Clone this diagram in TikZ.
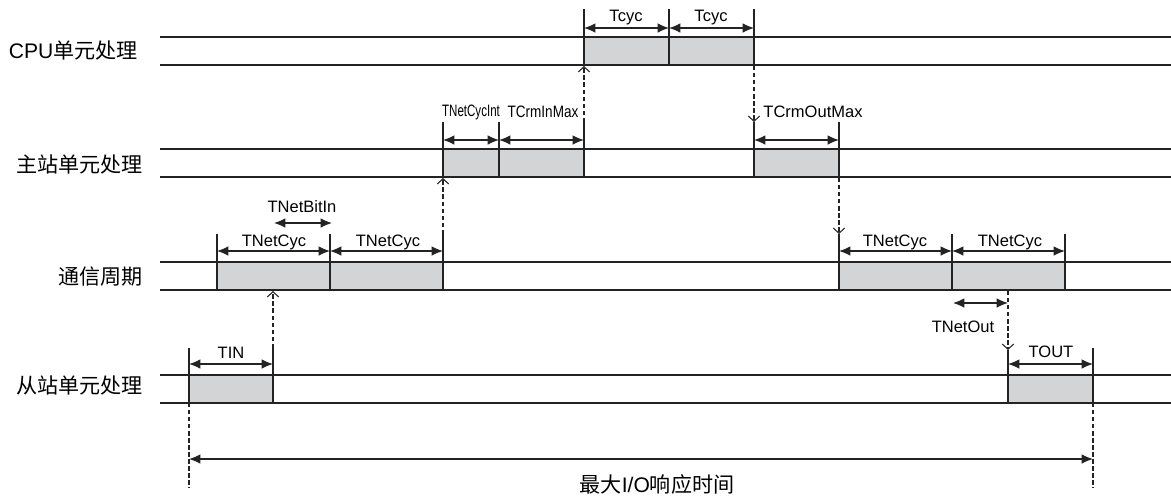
\documentclass[tikz,border=0pt]{standalone}
\usepackage{fontspec}
\setmainfont{Liberation Sans}
\newfontfamily\cjk{Noto Sans CJK SC}
\usetikzlibrary{arrows.meta, calc}
\definecolor{boxgray}{RGB}{211, 212, 214}
\definecolor{charcoal}{RGB}{35, 35, 35}

\begin{document}
\begin{tikzpicture}[
            x=0.02cm, y=-0.02cm,
            rowlabel/.style={anchor=east, inner sep=0pt, font=\fontsize{12}{14}\selectfont},
            timelabel/.style={inner sep=0pt, font=\fontsize{9.4}{11}\selectfont},
            busy/.style={draw=charcoal, fill=boxgray, line width=0.65pt},
            track/.style={draw=charcoal, line width=0.65pt},
            tick/.style={draw=charcoal, line width=0.65pt},
            span/.style={{Latex[length=6.5pt,width=5.5pt]}-{Latex[length=6.5pt,width=5.5pt]}, charcoal, line width=0.65pt},
            trigger/.style={-{Straight Barb[length=3pt,width=6.5pt]}, charcoal, dash pattern=on 2.5pt off 1.5pt, line width=0.6pt},
            guide/.style={charcoal, dash pattern=on 2.5pt off 1.5pt, line width=0.6pt}
        ]
            \useasboundingbox (0,0) rectangle (1171,495);

            % row labels
            \node[rowlabel] (cpu) at (138,51) {CPU{\cjk 单元处理}};
            \node[rowlabel] (master) at (143,164) {\cjk 主站单元处理};
            \node[rowlabel] (comm) at (143,277) {\cjk 通信周期};
            \node[rowlabel] (slave) at (143,385) {\cjk 从站单元处理};

            % busy intervals
            \draw[busy] (584,37) rectangle (669,65);
            \draw[busy] (669,37) rectangle (754,65);
            \draw[busy] (443,149) rectangle (499,177);
            \draw[busy] (499,149) rectangle (584,177);
            \draw[busy] (754,149) rectangle (839,177);
            \draw[busy] (217,262) rectangle (330,290);
            \draw[busy] (330,262) rectangle (443,290);
            \draw[busy] (839,262) rectangle (952,290);
            \draw[busy] (952,262) rectangle (1065,290);
            \draw[busy] (189,375) rectangle (273,403);
            \draw[busy] (1008,375) rectangle (1093,403);

            % tracks
            \draw[track] (160,37) -- (1171,37) (160,65) -- (1171,65);
            \draw[track] (160,149) -- (1171,149) (160,177) -- (1171,177);
            \draw[track] (160,262) -- (1171,262) (160,290) -- (1171,290);
            \draw[track] (160,375) -- (1171,375) (160,403) -- (1171,403);

            % CPU
            \draw[tick] (584,9) -- (584,37) (669,9) -- (669,37) (754,9) -- (754,37);
            \draw[span] (584,28) -- (669,28);
            \draw[span] (669,28) -- (754,28);
            \node[timelabel] (tcyca) at (626,18) {Tcyc};
            \node[timelabel] (tcycb) at (711,18) {Tcyc};

            % master
            \draw[tick] (443,122) -- (443,149) (499,122) -- (499,149) (584,122) -- (584,149);
            \draw[tick] (754,122) -- (754,149) (839,122) -- (839,149);
            \draw[span] (443,140) -- (499,140);
            \draw[span] (499,140) -- (584,140);
            \draw[span] (754,140) -- (839,140);
            \node[timelabel] (netcycint) at (471,112) {\scalebox{0.7}[1]{TNetCycInt}};
            \node[timelabel] (crminmax) at (543,112) {\scalebox{0.82}[1]{TCrmInMax}};
            \node[timelabel] (crmoutmax) at (813,112) {TCrmOutMax};

            % communication cycle
            \draw[tick] (217,234) -- (217,262) (330,234) -- (330,262) (443,234) -- (443,262);
            \draw[tick] (839,234) -- (839,262) (952,234) -- (952,262) (1065,234) -- (1065,262);
            \draw[span] (217,251) -- (330,251);
            \draw[span] (330,251) -- (443,251);
            \draw[span] (839,251) -- (952,251);
            \draw[span] (952,251) -- (1065,251);
            \node[timelabel] (netcyca) at (274,242) {TNetCyc};
            \node[timelabel] (netcycb) at (388,242) {TNetCyc};
            \node[timelabel] (netcycc) at (895,242) {TNetCyc};
            \node[timelabel] (netcycd) at (1010,242) {TNetCyc};
            \draw[span] (274,223) -- (332,223);
            \node[timelabel] (netbitin) at (302,207) {TNetBitIn};
            \draw[span] (953,303) -- (1008,303);
            \node[timelabel] (netout) at (963,327) {TNetOut};

            % slave
            \draw[tick] (189,348) -- (189,375) (273,348) -- (273,375);
            \draw[tick] (1008,350) -- (1008,375) (1093,348) -- (1093,375);
            \draw[span] (189,364) -- (273,364);
            \draw[span] (1008,364) -- (1093,364);
            \node[timelabel] (tin) at (231,353) {TIN};
            \node[timelabel] (tout) at (1051,352) {TOUT};

            % hand-over between rows
            \coordinate (inend) at (273,348);
            \coordinate (cycin) at (273,291);
            \coordinate (cycend) at (443,234);
            \coordinate (masterin) at (443,178);
            \coordinate (crmin) at (584,122);
            \coordinate (cpuin) at (584,66);
            \coordinate (cpuend) at (754,66);
            \coordinate (crmout) at (754,122);
            \coordinate (masterend) at (839,178);
            \coordinate (cycout) at (839,234);
            \coordinate (netoutend) at (1008,291);
            \coordinate (outstart) at (1008,350);
            \draw[trigger] (inend) -- (cycin);
            \draw[trigger] (cycend) -- (masterin);
            \draw[trigger] (crmin) -- (cpuin);
            \draw[trigger] (cpuend) -- (crmout);
            \draw[trigger] (masterend) -- (cycout);
            \draw[trigger] (netoutend) -- (outstart);

            % total response time
            \coordinate (start) at (189,403);
            \coordinate (stop) at (1093,403);
            \draw[guide] (start) -- ++(0,85);
            \draw[guide] (stop) -- ++(0,85);
            \draw[span] ($(start)+(0,56)$) -- ($(stop)+(0,56)$);
            \node[timelabel, font=\fontsize{12}{14}\selectfont] (total) at (657,484) {{\cjk 最大}I/O{\cjk 响应时间}};
        \end{tikzpicture}
\end{document}
